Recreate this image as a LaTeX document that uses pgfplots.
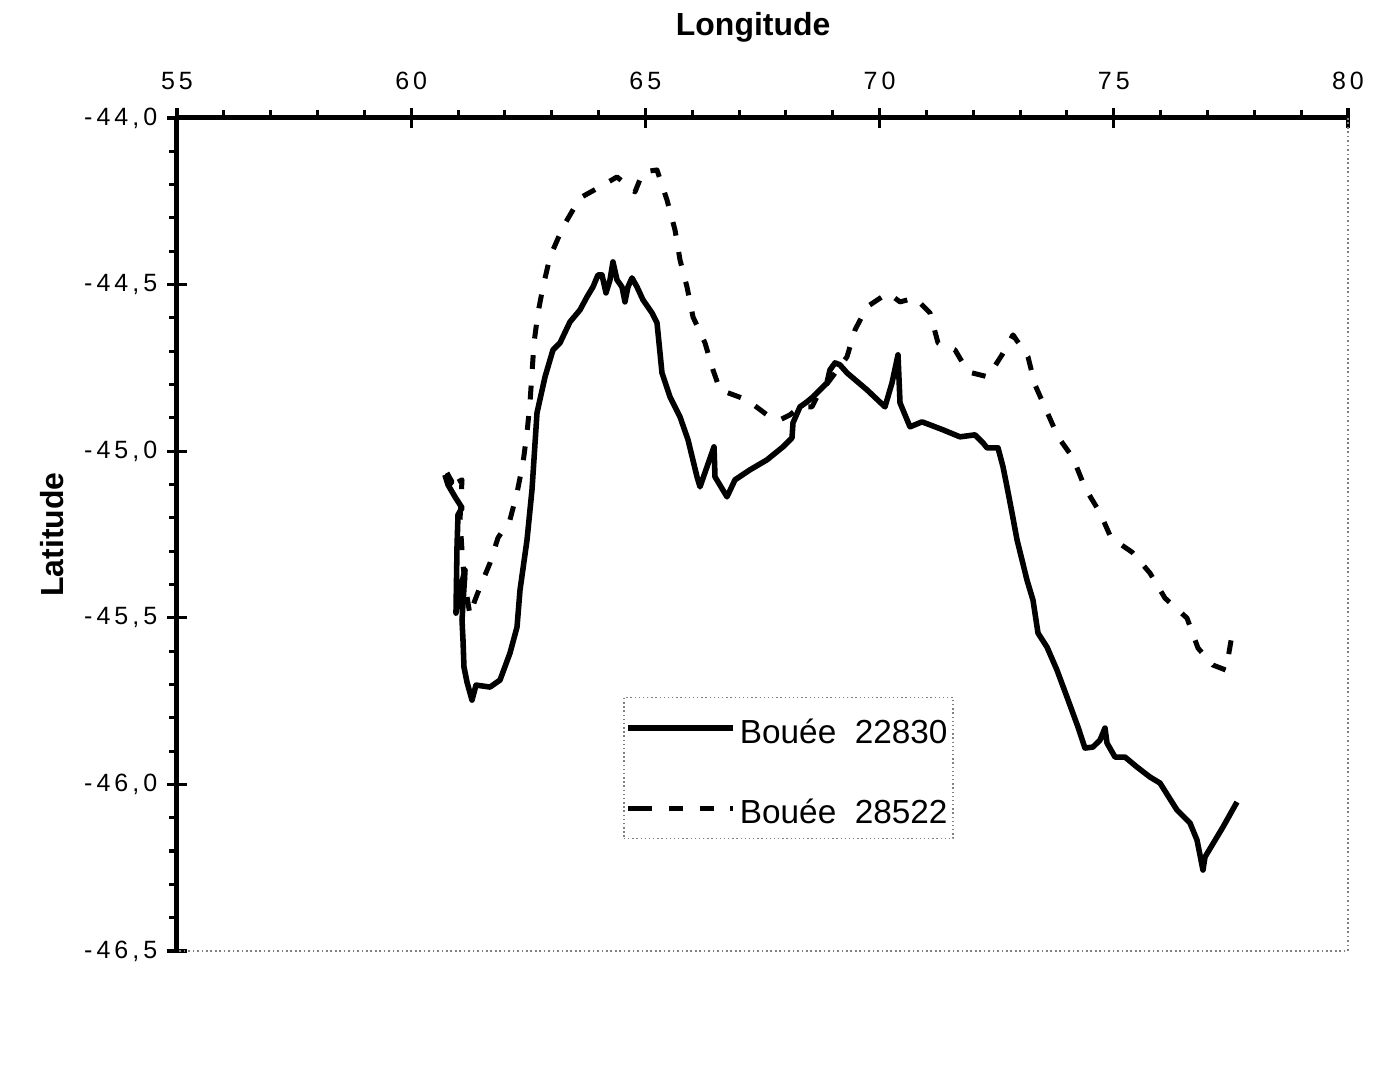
\documentclass[border=0pt]{standalone}
\usepackage{fontspec}
\setmainfont{Liberation Sans}
\usepackage{pgfplots}
\pgfplotsset{compat=1.18}
\usetikzlibrary{calc}

\begin{document}
\begin{tikzpicture}
\begin{axis}[
  name=ax,
  width=421.56pt, height=299.88pt, scale only axis,
  xmin=55, xmax=80, ymin=-46.5, ymax=-44,
  axis x line=top, axis y line=left,
  axis line style={-, line width=1.8pt},
  clip=false,
  xtick={55,60,...,80}, ytick={-46.5,-46,...,-44},
  minor x tick num=4, minor y tick num=4,
  tick align=outside,
  major tick length=3.6pt, minor tick length=2.9pt,
  tick style={line width=1.1pt, black},
  extra x ticks={55,60,...,80}, extra x tick labels={},
  extra x tick style={tick align=inside},
  extra y ticks={-46.5,-46,...,-44}, extra y tick labels={},
  extra y tick style={tick align=inside},
  /pgf/number format/assume math mode=true,
  ticklabel style={font=\fontsize{9}{10}\selectfont\addfontfeature{LetterSpace=16}},
  xticklabel style={yshift=2.9pt},
  yticklabel style={/pgf/number format/.cd, fixed, fixed zerofill, precision=1, use comma},
  xlabel={Longitude}, ylabel={Latitude},
  every axis x label/.style={at={(rel axis cs:0.492,1)}, anchor=center, yshift=32.8pt},
  every axis y label/.style={at={(rel axis cs:0,0.5)}, xshift=-45pt, rotate=90, anchor=center},
  label style={font=\fontsize{11.5}{13}\selectfont\bfseries},
  legend style={at={(rel axis cs:0.381,0.305)}, anchor=north west,
    draw=gray, densely dotted, line width=0.5pt,
    font=\fontsize{12}{14}\selectfont,
    inner xsep=0.5pt, inner ysep=3pt, row sep=12.8pt,
    nodes={inner sep=1.5pt, text height=12pt, text depth=1pt}},
  legend cell align=left,
  legend image code/.code={\path (0pt,0pt) -- (3.8pt,0pt); \draw[#1] (3.8pt,0pt) -- (37.8pt,0pt);},
]
\draw[gray, densely dotted, line width=0.6pt] (rel axis cs:1,1) -- (rel axis cs:1,0) -- (rel axis cs:0,0);

\addplot[black, solid, line width=2pt, line join=round] coordinates {
(60.72,-45.071)(60.786,-45.101)(60.935,-45.137)(61.085,-45.170)(60.999,-45.191)
(60.978,-45.288)(60.956,-45.486)(61.042,-45.417)(61.149,-45.357)(61.085,-45.507)
(61.106,-45.567)(61.127,-45.648)(61.191,-45.693)(61.298,-45.747)(61.384,-45.702)
(61.682,-45.708)(61.896,-45.687)(62.109,-45.606)(62.259,-45.528)(62.323,-45.417)
(62.472,-45.267)(62.579,-45.116)(62.686,-44.885)(62.857,-44.777)(63.027,-44.696)
(63.177,-44.675)(63.390,-44.612)(63.604,-44.576)(63.753,-44.537)(63.881,-44.507)
(63.988,-44.471)(64.073,-44.471)(64.159,-44.525)(64.244,-44.486)(64.308,-44.432)
(64.394,-44.486)(64.500,-44.507)(64.564,-44.552)(64.628,-44.507)(64.714,-44.480)
(64.821,-44.507)(64.949,-44.546)(65.141,-44.585)(65.248,-44.615)(65.312,-44.705)
(65.354,-44.765)(65.525,-44.837)(65.739,-44.897)(65.910,-44.966)(66.102,-45.077)
(66.166,-45.107)(66.315,-45.047)(66.465,-44.987)(66.486,-45.077)(66.742,-45.137)
(66.913,-45.086)(67.233,-45.056)(67.596,-45.026)(67.938,-44.987)(68.130,-44.960)
(68.151,-44.915)(68.300,-44.867)(68.450,-44.852)(68.578,-44.837)(68.727,-44.816)
(68.877,-44.795)(68.941,-44.756)(69.048,-44.735)(69.154,-44.741)(69.304,-44.765)
(69.731,-44.816)(70.115,-44.867)(70.265,-44.795)(70.393,-44.711)(70.436,-44.855)
(70.649,-44.927)(70.905,-44.912)(71.076,-44.921)(71.354,-44.936)(71.717,-44.957)
(72.037,-44.951)(72.208,-44.975)(72.293,-44.990)(72.528,-44.990)(72.635,-45.047)
(72.720,-45.107)(72.827,-45.185)(72.934,-45.266)(73.147,-45.387)(73.275,-45.447)
(73.382,-45.546)(73.574,-45.588)(73.787,-45.657)(74.001,-45.738)(74.236,-45.828)
(74.385,-45.891)(74.556,-45.888)(74.706,-45.867)(74.812,-45.831)(74.855,-45.876)
(75.026,-45.918)(75.239,-45.918)(75.495,-45.948)(75.773,-45.978)(75.986,-45.996)
(76.349,-46.077)(76.627,-46.116)(76.776,-46.167)(76.904,-46.257)(76.947,-46.218)
(77.203,-46.158)(77.331,-46.128)(77.630,-46.053)
};
\addlegendentry{Bouée\ \ 22830}

\addplot[black, line width=1.8pt, dash pattern=on 5pt off 6pt, line join=round] coordinates {
(60.764,-45.065)(60.871,-45.092)(60.764,-45.110)(61.085,-45.086)(61.042,-45.206)
(61.106,-45.342)(61.170,-45.417)(61.255,-45.492)(61.362,-45.447)(61.469,-45.408)
(61.682,-45.336)(61.853,-45.260)(62.109,-45.206)(62.259,-45.125)(62.387,-45.035)
(62.472,-44.945)(62.536,-44.855)(62.579,-44.765)(62.622,-44.675)(62.707,-44.585)
(62.814,-44.507)(62.963,-44.417)(63.241,-44.327)(63.604,-44.240)(63.988,-44.210)
(64.394,-44.177)(64.778,-44.222)(64.949,-44.162)(65.248,-44.156)(65.461,-44.246)
(65.632,-44.336)(65.739,-44.426)(65.888,-44.507)(66.016,-44.597)(66.272,-44.675)
(66.443,-44.756)(66.593,-44.816)(67.169,-44.846)(67.596,-44.891)(67.874,-44.906)
(68.087,-44.891)(68.300,-44.867)(68.557,-44.867)(68.664,-44.837)(68.941,-44.786)
(69.304,-44.717)(69.475,-44.636)(69.731,-44.567)(70.179,-44.525)(70.436,-44.552)
(70.756,-44.540)(71.076,-44.585)(71.247,-44.675)(71.610,-44.696)(71.887,-44.762)
(72.314,-44.777)(72.613,-44.711)(72.848,-44.651)(73.168,-44.717)(73.318,-44.801)
(73.574,-44.882)(73.809,-44.957)(74.129,-45.020)(74.385,-45.110)(74.706,-45.185)
(74.941,-45.260)(75.389,-45.303)(75.773,-45.366)(76.093,-45.441)(76.563,-45.501)
(76.798,-45.591)(77.118,-45.642)(77.395,-45.657)(77.523,-45.552)
};
\addlegendentry{Bouée\ \ 28522}
\end{axis}
\path[use as bounding box] ($(ax.south west)+(-63.72pt,-41.04pt)$) rectangle ($(ax.north east)+(13.32pt,42.48pt)$);
\end{tikzpicture}
\end{document}
